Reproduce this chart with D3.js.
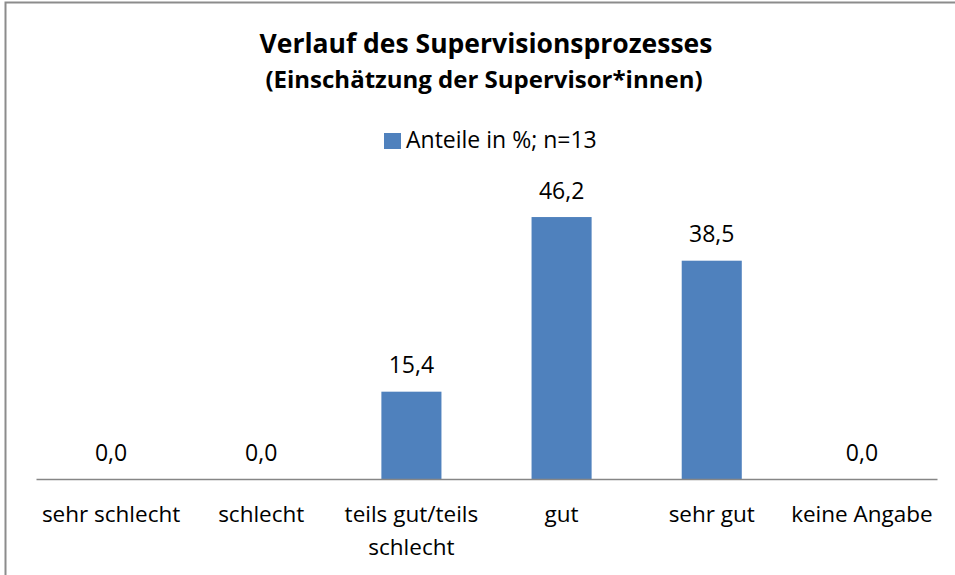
<!DOCTYPE html>
<html>
<head>
<meta charset="utf-8">
<script src="https://cdn.jsdelivr.net/npm/d3@7"></script>
<style>
  body { margin: 0; background: #fff; }
  svg { display: block; }
  text { font-family: "Open Sans", "Noto Sans", sans-serif; fill: #000; }
</style>
</head>
<body>
<svg id="chart" width="955" height="575"></svg>
<script>
// data
var categories = ["sehr schlecht", "schlecht", "teils gut/teils schlecht", "gut", "sehr gut", "keine Angabe"];
var values = [0.0, 0.0, 15.4, 46.2, 38.5, 0.0];
var seriesName = "Anteile in %; n=13";
var titleLines = ["Verlauf des Supervisionsprozesses", "(Einschätzung der Supervisor*innen)"];

var svg = d3.select("#chart");
var W = 955, H = 575;

// outer frame (right/bottom edges fall outside the picture)
svg.append("rect")
   .attr("x", 5.5).attr("y", 2.5)
   .attr("width", W + 10).attr("height", H + 10)
   .attr("fill", "#fff")
   .attr("stroke", "#8c8c8c")
   .attr("stroke-width", 2);

var plot = {left: 36, right: 937, top: 195.5, bottom: 479};

var x = d3.scaleBand()
          .domain(categories)
          .range([plot.left, plot.right])
          .paddingInner(0.6)
          .paddingOuter(0.3);

var y = d3.scaleLinear()
          .domain([0, 50])
          .range([plot.bottom, plot.top]);

// title
svg.append("text")
   .attr("x", 486).attr("y", 53)
   .attr("text-anchor", "middle")
   .style("font-weight", "bold").style("font-size", "26.5px")
   .text(titleLines[0]);
svg.append("text")
   .attr("x", 484).attr("y", 88)
   .attr("text-anchor", "middle")
   .style("font-weight", "bold").style("font-size", "24px")
   .text(titleLines[1]);

// legend
var legend = svg.append("g").attr("transform", "translate(384,133)");
legend.append("rect").attr("width", 17).attr("height", 16).attr("fill", "#4f81bd");
legend.append("text").attr("x", 22).attr("y", 15)
      .style("font-size", "23px")
      .text(seriesName);

// bars
svg.selectAll("rect.bar")
   .data(values)
   .enter().append("rect")
   .attr("class", "bar")
   .attr("x", function(d, i) { return x(categories[i]); })
   .attr("width", x.bandwidth())
   .attr("y", function(d) { return y(d); })
   .attr("height", function(d) { return y(0) - y(d); })
   .attr("fill", "#4f81bd");

// value labels
svg.selectAll("text.val")
   .data(values)
   .enter().append("text")
   .attr("class", "val")
   .attr("x", function(d, i) { return x(categories[i]) + x.bandwidth() / 2; })
   .attr("y", function(d) { return y(d) - 18.5; })
   .attr("text-anchor", "middle")
   .style("font-size", "23px")
   .text(function(d) { return d3.format(".1f")(d).replace(".", ","); });

// x axis
var xAxis = svg.append("g")
   .attr("transform", "translate(0," + plot.bottom + ")")
   .call(d3.axisBottom(x).tickSize(0).tickPadding(0).tickFormat(""));
xAxis.select(".domain").attr("stroke", "#868686").attr("stroke-width", 1.5);

// category labels, wrapped like the original
var labelLines = {
  "teils gut/teils schlecht": ["teils gut/teils", "schlecht"]
};
categories.forEach(function(c) {
  var lines = labelLines[c] || [c];
  var t = svg.append("text")
     .attr("text-anchor", "middle")
     .style("font-size", "22.5px");
  lines.forEach(function(l, k) {
    t.append("tspan")
     .attr("x", x(c) + x.bandwidth() / 2)
     .attr("y", 522 + k * 33)
     .text(l);
  });
});
</script>
</body>
</html>
